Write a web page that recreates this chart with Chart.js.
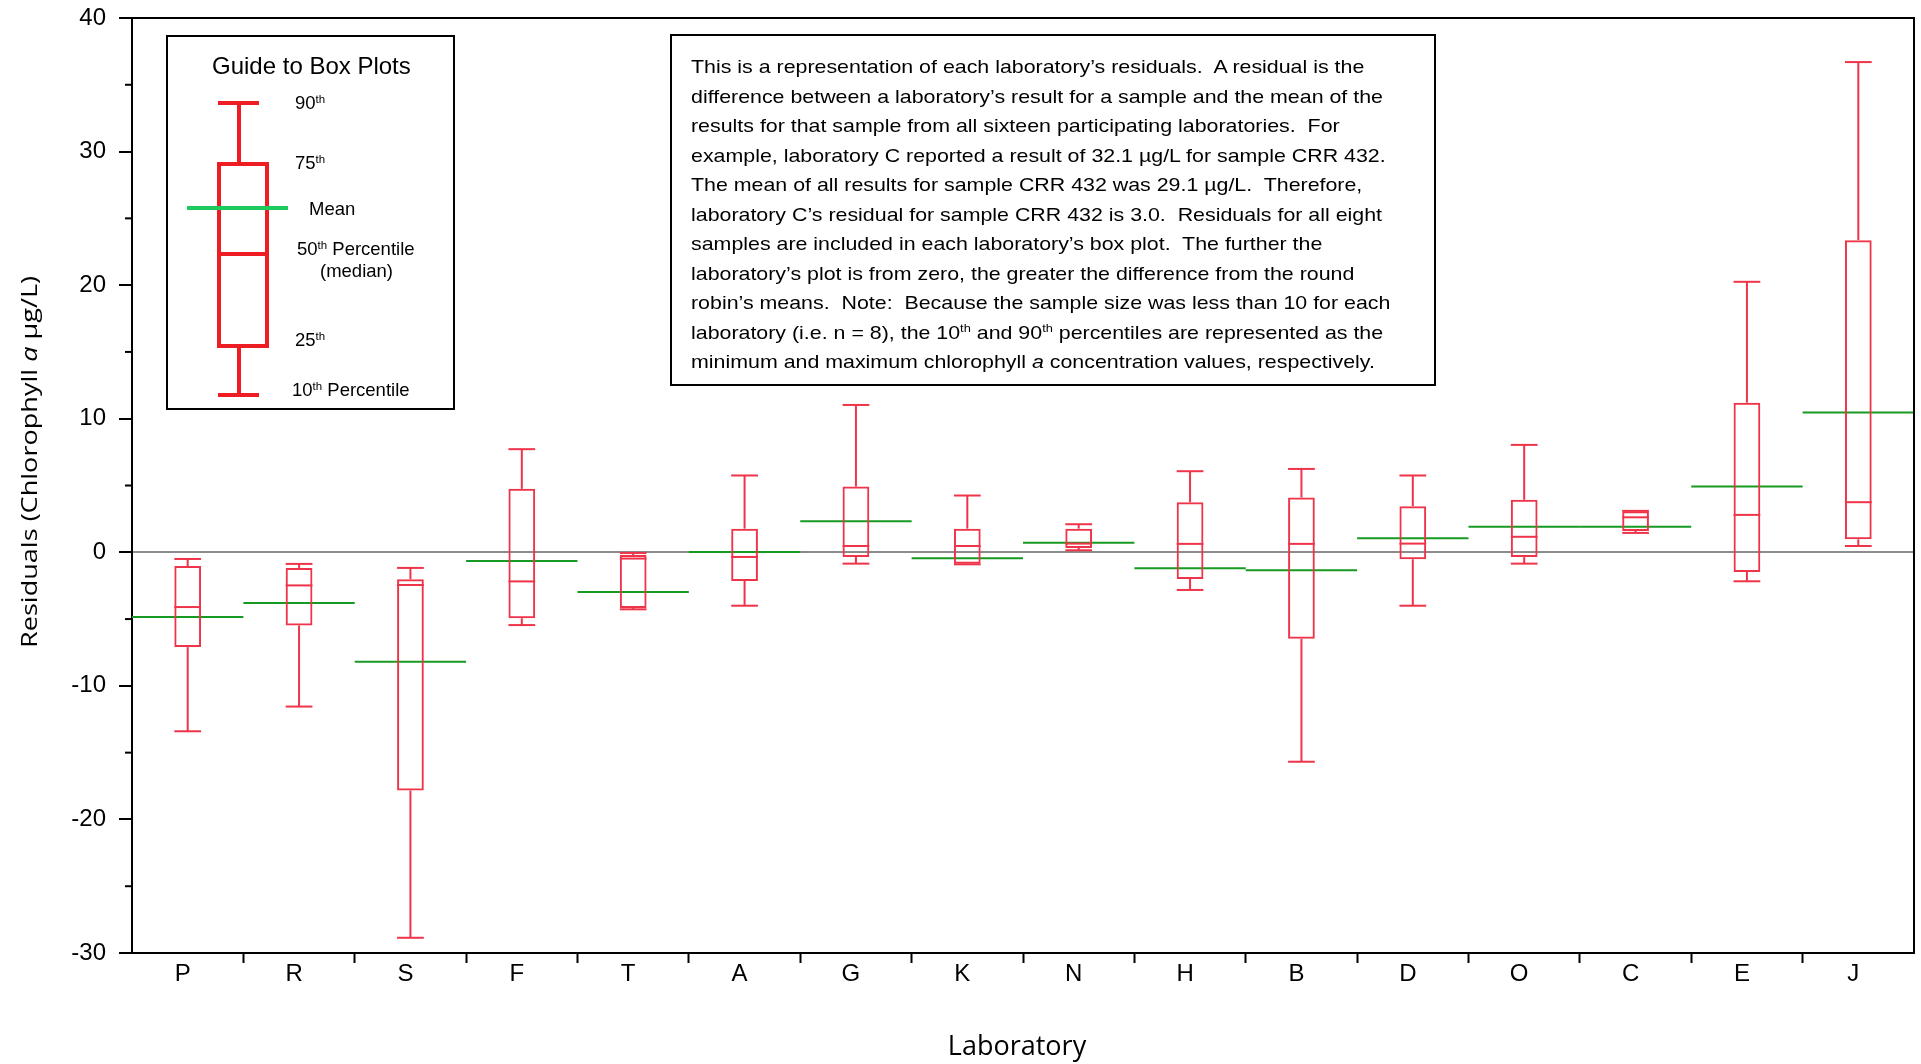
<!DOCTYPE html>
<html>
<head>
<meta charset="utf-8">
<script src="https://cdn.jsdelivr.net/npm/chart.js@4.4.1/dist/chart.umd.min.js"></script>
<style>
  body { margin: 0; background: #fff; }
  #wrap { position: relative; width: 1921px; height: 1064px; }
  #chart { position: absolute; left: 0; top: 0; }
  .frame { position: absolute; box-sizing: border-box; border: 2px solid #000; background: transparent; }
  .txt { position: absolute; font-family: Arial, "Liberation Sans", sans-serif; color: #000; white-space: pre; line-height: 20px; }
  .txt sup { font-size: 0.62em; vertical-align: 0.55em; line-height: 0; }
  #note { left: 670px; top: 34px; width: 766px; height: 352px; padding: 16px 0 0 19px;
          font-family: Arial, "Liberation Sans", sans-serif; font-size: 19px; line-height: 29.5px; white-space: pre; }
  #note div { transform: scaleX(1.125); transform-origin: 0 50%; }
  #note sup { font-size: 0.6em; vertical-align: 0.6em; line-height: 0; }
  #glyph { position: absolute; left: 0; top: 0; }
</style>
</head>
<body>
<div id="wrap">
  <canvas id="chart" width="1921" height="1064"></canvas>

  <div class="frame" style="left:166px; top:35px; width:289px; height:375px;"></div>
  <svg id="glyph" width="1921" height="1064">
    <g stroke="#ee1d23" stroke-width="4" fill="none">
      <line x1="218" y1="103" x2="259" y2="103"/>
      <line x1="239" y1="103" x2="239" y2="164"/>
      <rect x="219" y="164" width="48" height="182"/>
      <line x1="219" y1="254" x2="267" y2="254"/>
      <line x1="239" y1="346" x2="239" y2="395"/>
      <line x1="218" y1="395" x2="259" y2="395"/>
    </g>
    <line x1="187" y1="208" x2="288" y2="208" stroke="#1fc95b" stroke-width="4"/>
  </svg>
  <div class="txt" style="left:212px; top:53px; font-size:24px; line-height:26px;">Guide to Box Plots</div>
  <div class="txt" style="left:295px; top:93px; font-size:18.5px;">90<sup>th</sup></div>
  <div class="txt" style="left:295px; top:153px; font-size:18.5px;">75<sup>th</sup></div>
  <div class="txt" style="left:309px; top:199px; font-size:18.5px;">Mean</div>
  <div class="txt" style="left:297px; top:239px; font-size:18.5px;">50<sup>th</sup> Percentile</div>
  <div class="txt" style="left:320px; top:261px; font-size:18.5px;">(median)</div>
  <div class="txt" style="left:295px; top:330px; font-size:18.5px;">25<sup>th</sup></div>
  <div class="txt" style="left:292px; top:380px; font-size:18.5px;">10<sup>th</sup> Percentile</div>

  <div class="frame" id="note"><div>This is a representation of each laboratory’s residuals.  A residual is the</div><div>difference between a laboratory’s result for a sample and the mean of the</div><div>results for that sample from all sixteen participating laboratories.  For</div><div>example, laboratory C reported a result of 32.1 µg/L for sample CRR 432.</div><div>The mean of all results for sample CRR 432 was 29.1 µg/L.  Therefore,</div><div>laboratory C’s residual for sample CRR 432 is 3.0.  Residuals for all eight</div><div>samples are included in each laboratory’s box plot.  The further the</div><div>laboratory’s plot is from zero, the greater the difference from the round</div><div>robin’s means.  Note:  Because the sample size was less than 10 for each</div><div>laboratory (i.e. n = 8), the 10<sup>th</sup> and 90<sup>th</sup> percentiles are represented as the</div><div>minimum and maximum chlorophyll <i>a</i> concentration values, respectively.</div></div>
</div>

<script>
  const labs = ['P', 'R', 'S', 'F', 'T', 'A', 'G', 'K', 'N', 'H', 'B', 'D', 'O', 'C', 'E', 'J'];
  const maxVals    = [-0.5, -0.87, -1.17, 7.72, -0.05, 5.75, 11.03, 4.25, 2.1, 6.07, 6.24, 5.75, 8.04, 3.1, 20.25, 36.7];
  const q3Vals     = [-1.03, -1.17, -2.02, 4.75, -0.2, 1.77, 4.92, 1.77, 1.77, 3.75, 4.1, 3.45, 3.93, 3.07, 11.2, 23.37];
  const medianVals = [-4.1, -2.48, -2.45, -2.18, -0.47, -0.35, 0.47, 0.47, 0.65, 0.63, 0.63, 0.65, 1.16, 2.62, 2.8, 3.75];
  const q1Vals     = [-7.1, -5.48, -17.83, -4.94, -4.17, -2.15, -0.35, -0.85, 0.32, -2.0, -6.47, -0.52, -0.36, 1.6, -1.47, 0.97];
  const minVals    = [-13.4, -11.55, -28.86, -5.45, -4.27, -4.0, -0.85, -0.9, 0.15, -2.82, -15.68, -4.0, -0.85, 1.45, -2.17, 0.47];
  const meanVals   = [-4.85, -3.8, -8.2, -0.66, -2.97, 0.03, 2.32, -0.45, 0.72, -1.2, -1.35, 1.05, 1.91, 1.92, 4.92, 10.47];
  const minorTicks = [-25, -15, -5, 5, 15, 25, 35];

  const RED = '#ef3349';
  const GREEN = '#179a21';

  // whiskers, caps, medians and means drawn around the floating bars
  const boxExtras = {
    id: 'boxExtras',
    beforeDatasetsDraw(chart) {
      const { ctx, scales: { x, y } } = chart;
      const half = (x.getPixelForValue(1) - x.getPixelForValue(0)) / 2;
      ctx.save();
      ctx.strokeStyle = GREEN;
      ctx.lineWidth = 2;
      meanVals.forEach((m, i) => {
        const xc = x.getPixelForValue(i);
        const yy = y.getPixelForValue(m);
        ctx.beginPath();
        ctx.moveTo(xc - half, yy);
        ctx.lineTo(xc + half, yy);
        ctx.stroke();
      });
      ctx.restore();
    },
    afterDatasetsDraw(chart) {
      const { ctx, scales: { y } } = chart;
      const bars = chart.getDatasetMeta(0).data;
      ctx.save();
      ctx.strokeStyle = RED;
      ctx.lineWidth = 2;
      const line = (x1, y1, x2, y2) => {
        ctx.beginPath();
        ctx.moveTo(x1, y1);
        ctx.lineTo(x2, y2);
        ctx.stroke();
      };
      bars.forEach((bar, i) => {
        const xc = bar.x;
        const w = bar.width / 2;
        line(xc, y.getPixelForValue(q3Vals[i]), xc, y.getPixelForValue(maxVals[i]));
        line(xc, y.getPixelForValue(q1Vals[i]), xc, y.getPixelForValue(minVals[i]));
        line(xc - w, y.getPixelForValue(maxVals[i]), xc + w, y.getPixelForValue(maxVals[i]));
        line(xc - w, y.getPixelForValue(minVals[i]), xc + w, y.getPixelForValue(minVals[i]));
        line(xc - w, y.getPixelForValue(medianVals[i]), xc + w, y.getPixelForValue(medianVals[i]));
      });
      ctx.restore();
    },
    afterDraw(chart) {
      const { ctx, chartArea: a, scales: { y } } = chart;
      ctx.save();
      // top and right frame
      ctx.strokeStyle = '#000';
      ctx.lineWidth = 2;
      ctx.beginPath();
      ctx.moveTo(a.left, a.top);
      ctx.lineTo(a.right, a.top);
      ctx.lineTo(a.right, a.bottom);
      ctx.stroke();
      // minor ticks
      minorTicks.forEach(v => {
        const yy = y.getPixelForValue(v);
        ctx.beginPath();
        ctx.moveTo(a.left - 7, yy);
        ctx.lineTo(a.left, yy);
        ctx.stroke();
      });
      // y axis title with italic "a" (stretched along its length like the original)
      ctx.fillStyle = '#000';
      ctx.translate(37, 462);
      ctx.rotate(-Math.PI / 2);
      const parts = [['Residuals (Chlorophyll ', 'normal'], ['a', 'italic'], [' µg/L)', 'normal']];
      const fontFor = s => s + ' 21px "Open Sans", sans-serif';
      let total = 0;
      parts.forEach(p => { ctx.font = fontFor(p[1]); total += ctx.measureText(p[0]).width; });
      ctx.scale(372 / total, 1);
      let xx = -total / 2;
      ctx.textBaseline = 'alphabetic';
      parts.forEach(p => {
        ctx.font = fontFor(p[1]);
        ctx.fillText(p[0], xx, 0);
        xx += ctx.measureText(p[0]).width;
      });
      ctx.restore();
      // x axis title
      ctx.save();
      ctx.fillStyle = '#000';
      ctx.font = '27px "Open Sans", sans-serif';
      ctx.textAlign = 'center';
      ctx.textBaseline = 'alphabetic';
      ctx.fillText('Laboratory', 1017, 1055);
      ctx.restore();
    }
  };

  new Chart(document.getElementById('chart'), {
    type: 'bar',
    data: {
      labels: labs,
      datasets: [{
        label: 'Interquartile range',
        data: labs.map((_, i) => [q1Vals[i], q3Vals[i]]),
        borderColor: RED,
        borderWidth: 2,
        borderSkipped: false,
        backgroundColor: 'rgba(255,255,255,0)',
        barPercentage: 0.24,
        categoryPercentage: 1.0
      }]
    },
    options: {
      responsive: false,
      animation: false,
      layout: { padding: { top: 18, right: 7, left: 0, bottom: 0 } },
      plugins: {
        legend: { display: false },
        tooltip: { enabled: false }
      },
      scales: {
        x: {
          offset: true,
          grid: {
            offset: true,
            drawOnChartArea: false,
            tickLength: 10,
            tickWidth: 2,
            tickColor: ctx => (ctx.index > 0 ? '#000' : 'rgba(0,0,0,0)')
          },
          border: { display: true, color: '#000', width: 2 },
          ticks: {
            color: '#000',
            padding: -1,
            labelOffset: -5,
            font: { family: 'Arial, "Liberation Sans", sans-serif', size: 24, lineHeight: 1 }
          },
          afterFit: scale => { scale.height = 111; }
        },
        y: {
          min: -30,
          max: 40,
          ticks: {
            stepSize: 10,
            color: '#000',
            padding: 13,
            font: { family: 'Arial, "Liberation Sans", sans-serif', size: 24, lineHeight: 0.3 }
          },
          grid: {
            color: ctx => (ctx.tick && ctx.tick.value === 0 ? '#8c8c8c' : 'rgba(0,0,0,0)'),
            lineWidth: 2,
            tickColor: '#000',
            tickWidth: 2,
            tickLength: 13
          },
          border: { display: true, color: '#000', width: 2 },
          afterFit: scale => { scale.width = 132; }
        }
      }
    },
    plugins: [boxExtras]
  });
</script>
</body>
</html>
